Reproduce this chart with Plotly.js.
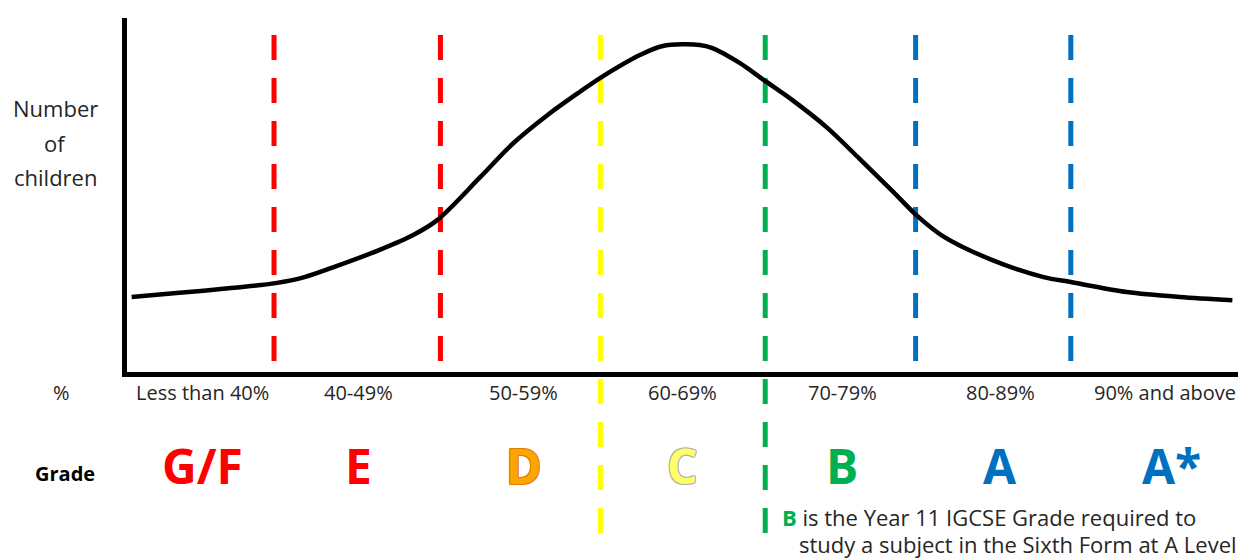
<!DOCTYPE html>
<html>
<head>
<meta charset="utf-8">
<script src="https://cdn.plot.ly/plotly-3.0.1.min.js"></script>
<style>
  html, body { margin: 0; padding: 0; background: #fff; }
  #chart { width: 1238px; height: 559px; }
</style>
</head>
<body>
<div id="chart"></div>
<script>
// bell curve (x = score %, y = relative number of children)
var scoreX = [31.1, 33.9, 37.3, 40.1, 41.9, 43.9, 46.6, 48.7, 50.2, 52.9, 54.9, 57.1, 59.1, 60.4, 62.9, 64.3, 66.6, 67.4, 69.1, 70.6, 72.4, 74.6, 76.6, 78.7, 80.2, 81.8, 84.9, 88.1, 89.8, 93.3, 96.6, 99.9];
var children = [21.2, 22.3, 23.7, 25.1, 26.8, 29.9, 34.5, 38.7, 42.9, 55.1, 64.4, 72.6, 79.1, 83.1, 89.6, 92.1, 92.4, 91.5, 87.3, 82.5, 76.8, 68.9, 60.2, 50.9, 44.1, 38.4, 31.6, 26.8, 25.4, 22.6, 21.2, 20.3];

// grade boundaries (dashed lines)
var cutX = [40, 50.4, 60.4, 70.7, 80.1, 89.8];
var cutColor = ['#FF0000', '#FF0000', '#FFFF00', '#00B050', '#0070C0', '#0070C0'];
var cutLong = [false, false, true, true, false, false];

// bands
var bandLabelX = [35.5, 45.3, 55.6, 65.5, 75.5, 85.4, 95.7];
var bandLabels = ['Less than 40%', '40-49%', '50-59%', '60-69%', '70-79%', '80-89%', '90% and above'];
var gradeX = [35.5, 45.3, 55.6, 65.5, 75.5, 85.4, 96.1];
var grades = ['G/F', 'E', 'D', 'C', 'B', 'A', 'A*'];
var gradeColor = ['#FF0000', '#FF0000', '#FFA500', '#FFFF66', '#00B050', '#0070C0', '#0070C0'];

var txt = '#262626';
var fontFam = '"Open Sans", sans-serif';

var curve = {
  x: scoreX,
  y: children,
  type: 'scatter',
  mode: 'lines',
  line: { color: '#000', width: 4.5, shape: 'spline', smoothing: 0.9 },
  hoverinfo: 'skip'
};

var shapes = [];
for (var i = 0; i < cutX.length; i++) {
  shapes.push({
    type: 'line', xref: 'x', yref: 'paper',
    x0: cutX[i], x1: cutX[i],
    y0: 0.952, y1: cutLong[i] ? -0.46 : 0.028,
    line: { color: cutColor[i], width: 5, dash: '25px,18px' },
    layer: 'below'
  });
}

var annotations = [];
for (var j = 0; j < bandLabels.length; j++) {
  annotations.push({
    x: bandLabelX[j], xref: 'x', y: -0.059, yref: 'paper',
    text: bandLabels[j], showarrow: false, xanchor: 'center', yanchor: 'middle',
    font: { family: fontFam, size: 20, color: txt }
  });
  var sh = 'none';
  if (grades[j] == 'D') sh = '1px 1px 0 #E08000, -1px -1px 0 #E08000, 1px -1px 0 #E08000, -1px 1px 0 #E08000';
  if (grades[j] == 'C') sh = '1px 1px 0 #B0B0B0, -1px -1px 0 #B0B0B0, 1px -1px 0 #B0B0B0, -1px 1px 0 #B0B0B0';
  annotations.push({
    x: gradeX[j], xref: 'x', y: -0.263, yref: 'paper',
    text: grades[j], showarrow: false, xanchor: 'center', yanchor: 'middle',
    font: { family: fontFam, size: 48, weight: 'bold', color: gradeColor[j], shadow: sh }
  });
}

// left side labels
var sideText = [
  { t: 'Number', y: 0.746 },
  { t: 'of', y: 0.647 },
  { t: 'children', y: 0.551 }
];
sideText.forEach(function (s) {
  annotations.push({
    x: -0.0645, xref: 'paper', y: s.y, yref: 'paper',
    text: s.t, showarrow: false, xanchor: 'center', yanchor: 'middle',
    font: { family: fontFam, size: 22, color: txt }
  });
});
annotations.push({
  x: -0.059, xref: 'paper', y: -0.059, yref: 'paper',
  text: '%', showarrow: false, xanchor: 'center', yanchor: 'middle',
  font: { family: fontFam, size: 20, color: txt }
});
annotations.push({
  x: -0.0555, xref: 'paper', y: -0.288, yref: 'paper',
  text: '<b>Grade</b>', showarrow: false, xanchor: 'center', yanchor: 'middle',
  font: { family: fontFam, size: 20, color: '#000' }
});

// footnote
annotations.push({
  x: 71.6, xref: 'x', y: -0.41, yref: 'paper',
  text: '<span style="color:#00B050"><b>B</b></span> is the Year 11 IGCSE Grade required to',
  showarrow: false, xanchor: 'left', yanchor: 'middle',
  font: { family: fontFam, size: 22, color: txt }
});
annotations.push({
  x: 72.7, xref: 'x', y: -0.487, yref: 'paper',
  text: 'study a subject in the Sixth Form at A Level',
  showarrow: false, xanchor: 'left', yanchor: 'middle',
  font: { family: fontFam, size: 22, color: txt }
});

var layout = {
  width: 1238,
  height: 559,
  margin: { l: 127, r: 0, t: 18, b: 187 },
  paper_bgcolor: '#fff',
  plot_bgcolor: '#fff',
  showlegend: false,
  xaxis: {
    range: [30.81, 100.25],
    showline: true, linecolor: '#000', linewidth: 5,
    showgrid: false, zeroline: false, showticklabels: false, ticks: ''
  },
  yaxis: {
    range: [0, 100],
    showline: true, linecolor: '#000', linewidth: 5,
    showgrid: false, zeroline: false, showticklabels: false, ticks: ''
  },
  shapes: shapes,
  annotations: annotations
};

Plotly.newPlot('chart', [curve], layout, { staticPlot: true, displayModeBar: false });
</script>
</body>
</html>
